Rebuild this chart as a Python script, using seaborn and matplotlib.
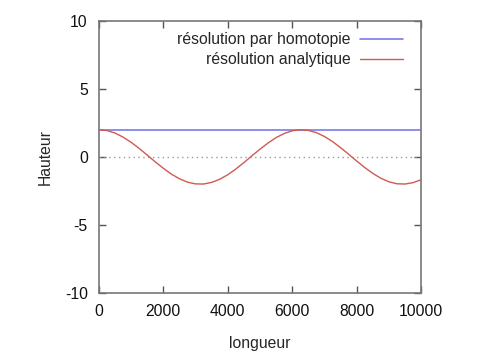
import numpy as np
import pandas as pd
import matplotlib
matplotlib.use("Agg")
import matplotlib.pyplot as plt
import seaborn as sns

# values
longueur = [0, 250, 500, 750, 1000, 1250, 1500, 1750, 2000, 2250, 2500, 2750,
            3000, 3250, 3500, 3750, 4000, 4250, 4500, 4750, 5000, 5250, 5500,
            5750, 6000, 6250, 6500, 6750, 7000, 7250, 7500, 7750, 8000, 8250,
            8500, 8750, 9000, 9250, 9500, 9750, 10000]
hauteur_homotopie = [2.0] * len(longueur)
hauteur_analytique = [2.00, 1.94, 1.76, 1.46, 1.08, 0.63, 0.14, -0.36, -0.83,
                      -1.26, -1.60, -1.85, -1.98, -1.99, -1.87, -1.64, -1.31,
                      -0.89, -0.42, 0.08, 0.57, 1.02, 1.42, 1.72, 1.92, 2.00,
                      1.95, 1.79, 1.51, 1.14, 0.69, 0.21, -0.29, -0.77, -1.20,
                      -1.56, -1.82, -1.97, -1.99, -1.89, -1.68]
labels = ["résolution par homotopie", "résolution analytique"]
colors = ["#7a7aef", "#cf5a50"]

df = pd.concat([
    pd.DataFrame({"longueur": longueur, "Hauteur": hauteur_homotopie, "serie": labels[0]}),
    pd.DataFrame({"longueur": longueur, "Hauteur": hauteur_analytique, "serie": labels[1]}),
])

sns.set_style("ticks")
plt.rcParams["font.family"] = ["Liberation Sans", "DejaVu Sans"]
plt.rcParams["font.size"] = 11.3
plt.rcParams["axes.unicode_minus"] = False

fig = plt.figure(figsize=(4.8, 3.6), dpi=100)
ax = fig.add_axes([0.206, 0.186, 0.671, 0.756])

ax.axhline(0, color="#999999", lw=1, ls=(0, (1, 2.5)), zorder=1)
sns.lineplot(data=df, x="longueur", y="Hauteur", hue="serie", hue_order=labels,
             palette=colors, ax=ax, linewidth=1.2, legend=False)
ax.lines[-1].set_linewidth(1.0)

ax.set_xlim(0, 10000)
ax.set_ylim(-10, 10)
ax.set_xticks([0, 2000, 4000, 6000, 8000, 10000])
ax.set_yticks([-10, -5, 0, 5, 10])
ax.tick_params(direction="in", length=5, width=1, color="#555555",
               top=True, right=True, labelsize=11.3, pad=8, labelcolor="#111111")
for s in ax.spines.values():
    s.set_color("#777777")
    s.set_linewidth(1.2)
    s.set_visible(True)

ax.set_xlabel("longueur", fontsize=11.3, labelpad=12)
ax.set_ylabel("Hauteur", fontsize=11.3, labelpad=9)

handles = [plt.Line2D([], [], color=colors[0], lw=1.2),
           plt.Line2D([], [], color=colors[1], lw=1.0)]
ax.legend(handles, labels, loc="upper right", bbox_to_anchor=(0.963, 0.982),
          frameon=False, markerfirst=False, fontsize=11.3, handlelength=2.7,
          handletextpad=0.6, labelspacing=0.33, borderaxespad=0)

fig.savefig("out.png", dpi=100)
